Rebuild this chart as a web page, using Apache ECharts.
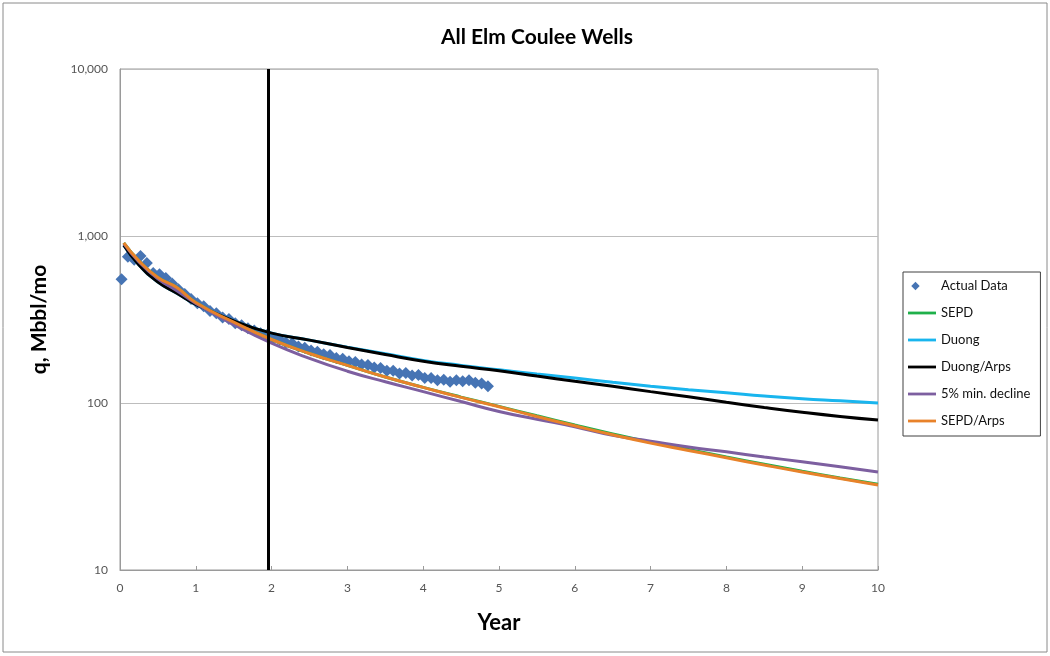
<!DOCTYPE html>
<html lang="en">
<head>
    <meta charset="UTF-8">
    <title>All Elm Coulee Wells</title>
    <script src="https://cdn.jsdelivr.net/npm/echarts@6/dist/echarts.min.js"></script>
    <style>
        body { margin: 0; background: #fff; }
    </style>
</head>
<body>
    <div id="main" style="width: 1050px; height: 656px;"></div>
    <script>
        // monthly production, Mbbl/mo
        var actualMonths = [0, 1, 2, 3, 4, 5, 6, 7, 8, 9, 10, 11, 12, 13, 14, 15, 16, 17, 18, 19,
            20, 21, 22, 23, 24, 25, 26, 27, 28, 29, 30, 31, 32, 33, 34, 35, 36, 37, 38, 39,
            40, 41, 42, 43, 44, 45, 46, 47, 48, 49, 50, 51, 52, 53, 54, 55, 56, 57, 58];
        var actualValues = [550, 750, 720, 760, 690, 600, 590, 560, 520, 480, 450, 420, 395, 380, 355, 345, 325, 318, 300, 292,
            280, 272, 262, 255, 245, 240, 230, 228, 218, 214, 206, 203, 196, 194, 186, 184, 178, 176, 170, 169,
            163, 162, 156, 156, 150, 151, 146, 147, 141, 141, 137, 138, 134, 137, 135, 137, 132, 131, 126];

        // forecast curves
        var curveYears = [0.05, 0.25, 0.5, 0.75, 1, 1.5, 2, 2.5, 3, 3.5, 4, 4.5, 5, 5.5, 6, 6.5, 7, 7.5, 8, 8.5, 9, 9.5, 10];
        var sepd       = [910, 710, 565, 492, 400, 305, 240, 198, 168, 143, 124, 108.5, 95.5, 83.8, 73.8, 65.3, 58.2, 52.6, 47.5, 43, 39, 35.6, 32.6];
        var duong      = [880, 670, 530, 455, 390, 310, 262, 238, 216, 197, 180, 168, 158, 149, 141, 133, 126, 120, 115, 110, 106, 103, 100];
        var duongArps  = [880, 670, 530, 455, 390, 310, 262, 238, 215, 195, 178, 166, 156, 145, 135, 126, 117, 109, 101, 94, 88, 83, 79];
        var minDecline = [900, 700, 555, 470, 395, 295, 228, 185, 155, 134, 117, 102, 89, 80, 72, 64, 59, 54.5, 51, 47.5, 44.5, 41.5, 38.6];
        var sepdArps   = [910, 710, 565, 492, 400, 305, 240, 198, 168, 143, 124, 108, 95, 83, 73, 64.5, 57.5, 52, 47, 42.5, 38.6, 35.3, 32.3];

        var cutoffYear = 1.95;
        var yTicks = {10: '10', 100: '100', 1000: '1,000', 10000: '10,000'};

        var font = 'Lato, "Open Sans", sans-serif';
        // legend icons drawn inside a 30x15 box so that they keep their size
        var lineIcon = 'path://M0,0 L0,0 M0,6 L30,6 L30,9 L0,9 Z M30,15 L30,15';
        var diamondIcon = 'path://M0,0 L0,0 M8,3 L12.5,7.5 L8,12 L3.5,7.5 Z M30,15 L30,15';

        function pairs(xs, ys) {
            var out = [];
            for (var i = 0; i < xs.length; i++) {
                out.push([xs[i], ys[i]]);
            }
            return out;
        }

        var actualData = [];
        for (var i = 0; i < actualMonths.length; i++) {
            actualData.push([(actualMonths[i] + 0.25) / 12, actualValues[i]]);
        }

        function curve(name, values, color) {
            return {
                name: name,
                type: 'line',
                data: pairs(curveYears, values),
                smooth: true,
                symbol: 'none',
                lineStyle: { color: color, width: 3 },
                itemStyle: { color: color }
            };
        }

        var myChart = echarts.init(document.getElementById('main'));
        var option = {
            backgroundColor: '#fff',
            animation: false,
            title: {
                text: 'All Elm Coulee Wells',
                left: 532,
                top: 22,
                textAlign: 'center',
                textStyle: { fontFamily: font, fontSize: 21, fontWeight: 'bold', color: '#000' }
            },
            legend: {
                orient: 'vertical',
                left: 903,
                top: 272,
                padding: [7, 10, 8, 5],
                itemGap: 13,
                itemWidth: 28,
                itemHeight: 14,
                borderColor: '#404040',
                borderWidth: 1,
                textStyle: { fontFamily: font, fontSize: 13, color: '#111' },
                data: [
                    { name: 'Actual Data', icon: diamondIcon, itemStyle: { opacity: 1 } },
                    { name: 'SEPD', icon: lineIcon },
                    { name: 'Duong', icon: lineIcon },
                    { name: 'Duong/Arps', icon: lineIcon },
                    { name: '5% min. decline', icon: lineIcon },
                    { name: 'SEPD/Arps', icon: lineIcon }
                ]
            },
            grid: {
                left: 120,
                right: 172,
                top: 69,
                bottom: 86,
                show: true,
                borderColor: '#9a9a9a',
                borderWidth: 1
            },
            graphic: [{
                type: 'rect',
                shape: { x: 3, y: 3, width: 1044, height: 649 },
                style: { fill: 'none', stroke: '#8a8a8a', lineWidth: 1 },
                silent: true
            }],
            xAxis: {
                type: 'value',
                min: 0,
                max: 10,
                interval: 1,
                name: 'Year',
                nameLocation: 'middle',
                nameGap: 42,
                nameTextStyle: { fontFamily: font, fontSize: 22, fontWeight: 'bold', color: '#000' },
                axisLine: { lineStyle: { color: '#9a9a9a' } },
                axisTick: { inside: true, length: 4, lineStyle: { color: '#9a9a9a' } },
                axisLabel: { fontFamily: font, fontSize: 12, color: '#555', margin: 12 },
                splitLine: { show: false }
            },
            yAxis: {
                type: 'log',
                logBase: 10,
                min: 10,
                max: 10000,
                name: 'q, Mbbl/mo',
                nameLocation: 'middle',
                nameGap: 70,
                nameTextStyle: { fontFamily: font, fontSize: 21, fontWeight: 'bold', color: '#000' },
                axisLine: { show: true, lineStyle: { color: '#9a9a9a' } },
                axisTick: { show: false },
                axisLabel: {
                    fontFamily: font, fontSize: 12, color: '#555', margin: 12,
                    formatter: function (v) { return yTicks[Math.round(v)] || ''; }
                },
                splitLine: { show: true, lineStyle: { color: '#bdbdbd', width: 1 } }
            },
            series: [
                {
                    name: 'Actual Data',
                    type: 'scatter',
                    data: actualData,
                    symbol: 'diamond',
                    symbolSize: 12,
                    itemStyle: { color: '#4674b4', opacity: 1 }
                },
                curve('SEPD', sepd, '#1fb04a'),
                curve('Duong', duong, '#19b5ee'),
                curve('Duong/Arps', duongArps, '#000000'),
                curve('5% min. decline', minDecline, '#7d5fa0'),
                curve('SEPD/Arps', sepdArps, '#e8822a'),
                {
                    name: 'cutoff',
                    type: 'line',
                    data: [],
                    markLine: {
                        silent: true,
                        symbol: 'none',
                        label: { show: false },
                        lineStyle: { color: '#000', width: 3, type: 'solid' },
                        data: [{ xAxis: cutoffYear }]
                    }
                }
            ]
        };
        myChart.setOption(option);
    </script>
</body>
</html>
